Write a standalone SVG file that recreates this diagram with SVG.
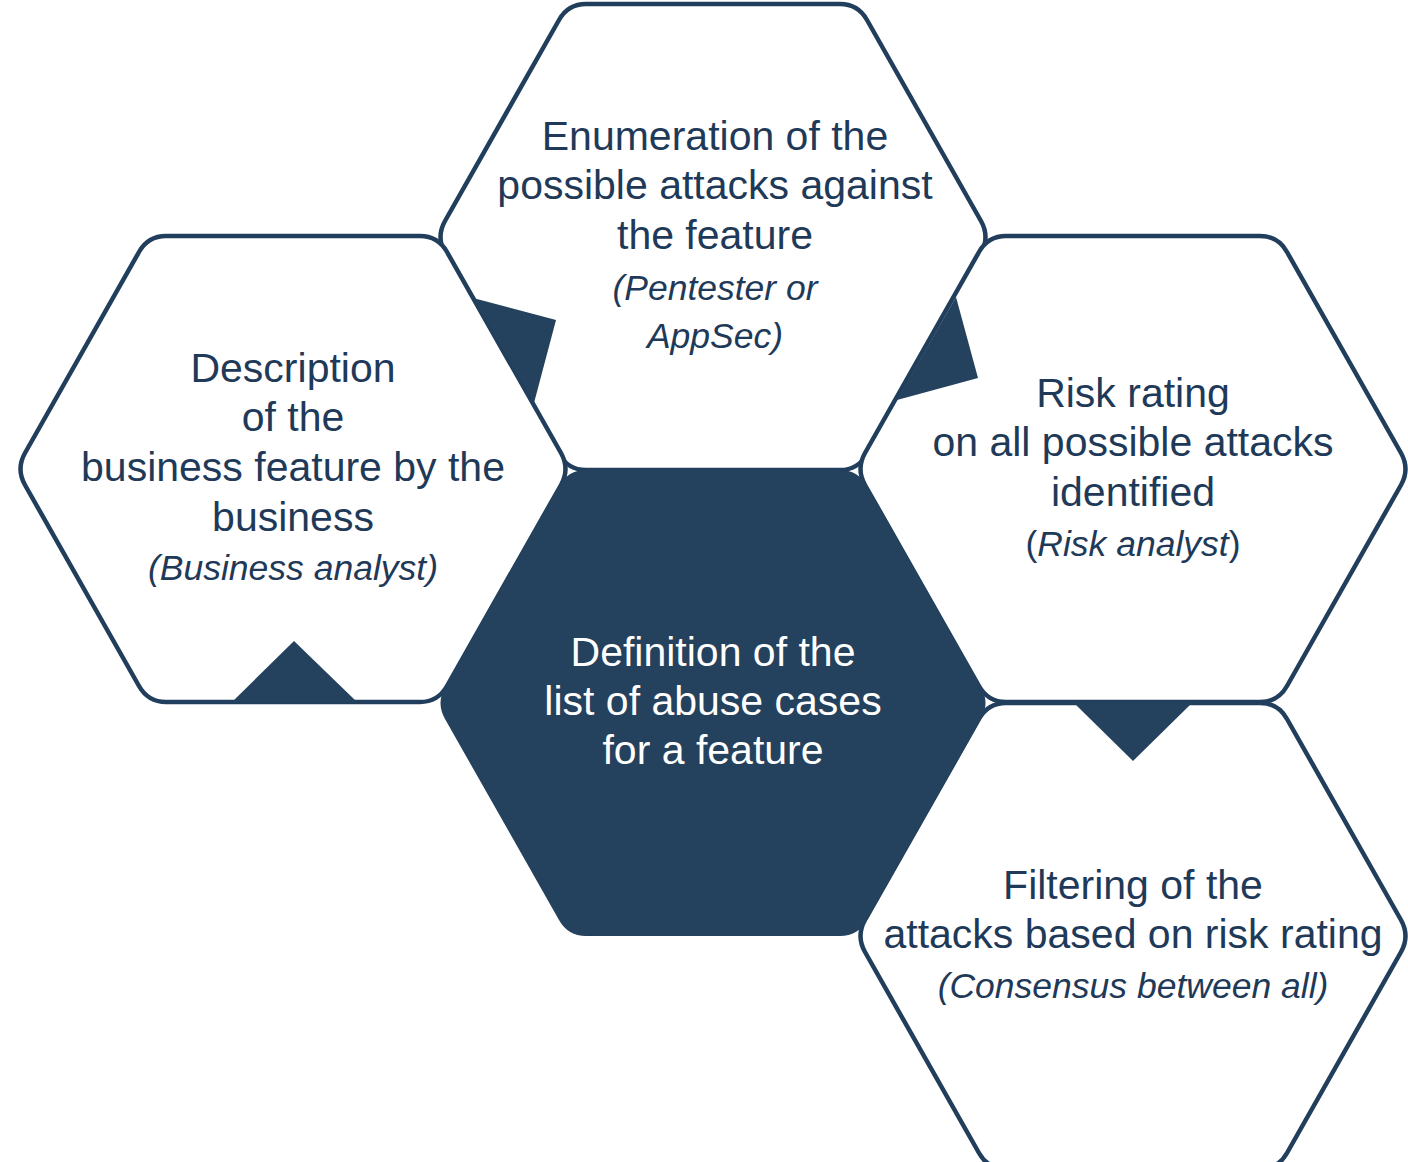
<svg xmlns="http://www.w3.org/2000/svg" xmlns:xlink="http://www.w3.org/1999/xlink" width="1408" height="1162" viewBox="0 0 1408 1162">
<style>
.hex{fill:#ffffff;stroke:#213f5c;stroke-width:4.5}
.core{fill:#24415d;stroke:none}
.tri{fill:#24415d}
text{font-family:"Liberation Sans",Arial,sans-serif;text-anchor:middle;fill:#1f3a58}
.t{font-size:41px}
.i{font-size:35.5px;font-style:italic}
.w{fill:#ffffff}
</style>
<defs>
<path id="hx" d="M-127,-233 H127 Q145,-233 154,-217 L268,-16 Q277,0 268,16 L154,217 Q145,233 127,233 H-127 Q-145,233 -154,217 L-268,16 Q-277,0 -268,-16 L-154,-217 Q-145,-233 -127,-233 Z"/>
</defs>
<rect width="1408" height="1162" fill="#ffffff"/>
<g id="hex-top" transform="translate(713,237)">
<use href="#hx" class="hex"/>
</g>
<g id="hex-left" transform="translate(293,469)">
<use href="#hx" class="hex"/>
</g>
<g id="hex-right" transform="translate(1133,469)">
<use href="#hx" class="hex"/>
</g>
<g id="hex-bottom-right" transform="translate(1133,936)">
<use href="#hx" class="hex"/>
</g>
<g id="hex-center" transform="translate(713,703)">
<use href="#hx" class="core"/>
</g>
<g id="connectors">
<polygon class="tri" points="473,298 556,320 534,403"/>
<polygon class="tri" points="956,297 978,378 897,400"/>
<polygon class="tri" points="232,702 294,641 357,702"/>
<polygon class="tri" points="1073,702 1193,702 1133,761"/>
</g>
<g id="text-top">
<text class="t" x="715" y="150">Enumeration of the</text>
<text class="t" x="715" y="199">possible attacks against</text>
<text class="t" x="715" y="249">the feature</text>
<text class="i" x="715" y="300">(Pentester or</text>
<text class="i" x="715" y="348">AppSec)</text>
</g>
<g id="text-left">
<text class="t" x="293" y="382">Description</text>
<text class="t" x="293" y="431">of the</text>
<text class="t" x="293" y="481">business feature by the</text>
<text class="t" x="293" y="531">business</text>
<text class="i" x="293" y="580">(Business analyst)</text>
</g>
<g id="text-right">
<text class="t" x="1133" y="407">Risk rating</text>
<text class="t" x="1133" y="456">on all possible attacks</text>
<text class="t" x="1133" y="506">identified</text>
<text x="1133" y="556" style="font-size:35.5px">(<tspan font-style="italic">Risk analyst</tspan>)</text>
</g>
<g id="text-center">
<text class="t w" x="713" y="666">Definition of the</text>
<text class="t w" x="713" y="715">list of abuse cases</text>
<text class="t w" x="713" y="764">for a feature</text>
</g>
<g id="text-bottom-right">
<text class="t" x="1133" y="899">Filtering of the</text>
<text class="t" x="1133" y="948">attacks based on risk rating</text>
<text class="i" x="1133" y="998">(Consensus between all)</text>
</g>
</svg>
